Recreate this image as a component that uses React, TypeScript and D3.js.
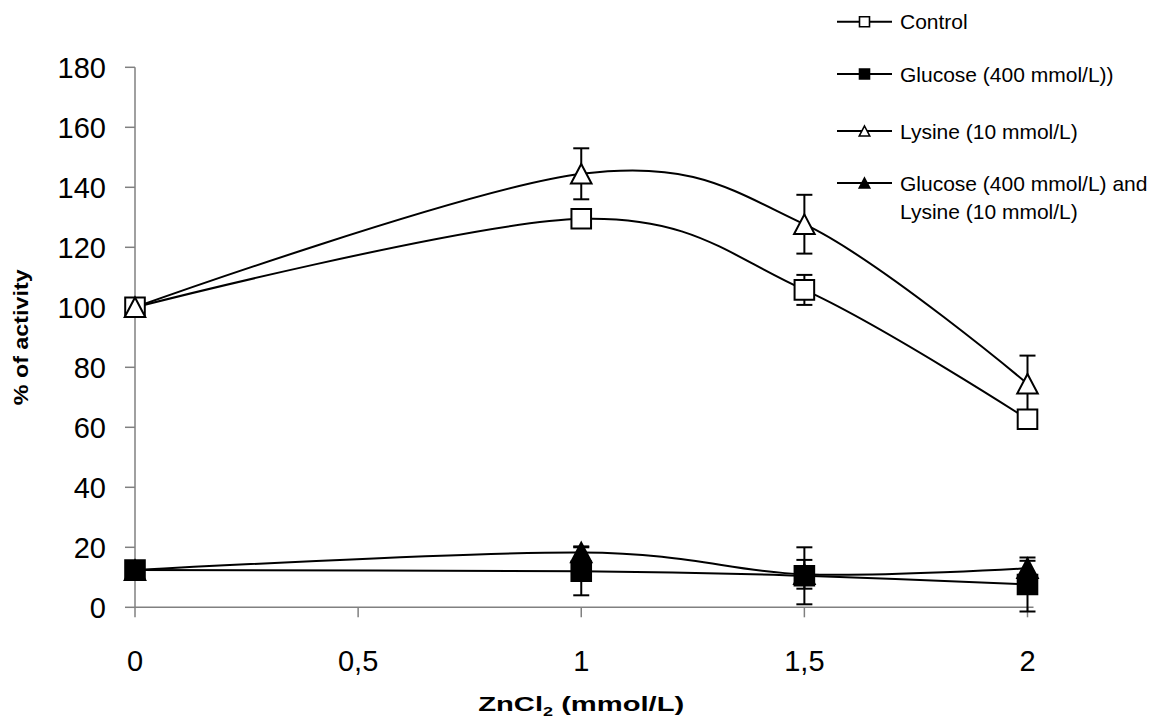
import React from "react";
import * as d3 from "d3";

// ZnCl2 concentration (mmol/L) at which activity was measured
const doses = [0, 1, 1.5, 2];
const doseTicks = [0, 0.5, 1, 1.5, 2];
const doseTickLabels = ["0", "0,5", "1", "1,5", "2"];
const activityTicks = [0, 20, 40, 60, 80, 100, 120, 140, 160, 180];

// % of activity per series, with error bar half-widths
const control = [100, 129.5, 105.8, 62.7];
const controlErr = [0, 1.5, 5, 3];
const glucose = [12.4, 12, 10.5, 7.6];
const glucoseErr = [0, 8, 9.5, 9];
const lysine = [100, 144.5, 127.7, 74.5];
const lysineErr = [0, 8.5, 9.8, 9.4];
const glucoseLysine = [12.4, 18.3, 11, 13];
const glucoseLysineErr = [0, 2, 4.8, 2.5];

const seriesNames = [
  "Control",
  "Glucose (400 mmol/L))",
  "Lysine (10 mmol/L)",
  "Glucose (400 mmol/L) and",
];

type Marker = "square" | "triangle";

const series = [
  { name: seriesNames[0], values: control, err: controlErr, marker: "square" as Marker, fill: "#fff" },
  { name: seriesNames[1], values: glucose, err: glucoseErr, marker: "square" as Marker, fill: "#000" },
  { name: seriesNames[2], values: lysine, err: lysineErr, marker: "triangle" as Marker, fill: "#fff" },
  { name: seriesNames[3], values: glucoseLysine, err: glucoseLysineErr, marker: "triangle" as Marker, fill: "#000" },
];

const W = 1175;
const H = 724;
const font = "Arial, 'Liberation Sans', sans-serif";

const x = d3.scaleLinear().domain([0, 2]).range([135, 1027.5]);
const y = d3.scaleLinear().domain([0, 180]).range([607.3, 67.3]);

const line = d3
  .line<[number, number]>()
  .x((d) => x(d[0]))
  .y((d) => y(d[1]))
  .curve(d3.curveCatmullRom.alpha(0));

function markerPath(kind: Marker, cx: number, cy: number, r: number) {
  if (kind === "square") {
    return `M${cx - r},${cy - r}H${cx + r}V${cy + r}H${cx - r}Z`;
  }
  return `M${cx},${cy - r}L${cx + r * 1.05},${cy + r}L${cx - r * 1.05},${cy + r}Z`;
}

export default function App() {
  const legendRows = [21.7, 74, 131, 183];
  const plotMidX = (x(0) + x(2)) / 2;
  const plotMidY = (y(0) + y(180)) / 2;
  return (
    <svg
      width={W}
      height={H}
      style={{ position: "absolute", left: 0, top: 0, background: "#fff" }}
      fontFamily={font}
    >
      {/* axes */}
      <g stroke="#808080" strokeWidth={1.5}>
        <line x1={x(0)} x2={x(0)} y1={y(0)} y2={y(180)} />
        <line x1={x(0)} x2={x(2) + 6} y1={y(0)} y2={y(0)} />
        {activityTicks.map((t) => (
          <line key={t} x1={x(0) - 10} x2={x(0)} y1={y(t)} y2={y(t)} />
        ))}
        {doseTicks.map((t) => (
          <line key={t} x1={x(t)} x2={x(t)} y1={y(0)} y2={y(0) + 10} />
        ))}
      </g>
      <g fontSize={29} fill="#000">
        {activityTicks.map((t) => (
          <text key={t} x={106} y={y(t)} dy="0.36em" textAnchor="end">
            {t}
          </text>
        ))}
        {doseTickLabels.map((label, i) => (
          <text key={label} x={x(doseTicks[i])} y={671} textAnchor="middle">
            {label}
          </text>
        ))}
      </g>

      {/* axis titles */}
      <text
        transform={`translate(28,${plotMidY}) rotate(-90)`}
        textAnchor="middle"
        fontSize={21}
        fontWeight="bold"
        textLength={136}
        lengthAdjust="spacingAndGlyphs"
      >
        % of activity
      </text>
      <text
        x={plotMidX}
        y={711}
        textAnchor="middle"
        fontSize={21}
        fontWeight="bold"
        textLength={206}
        lengthAdjust="spacingAndGlyphs"
      >
        ZnCl
        <tspan fontSize={13} dy={5}>2</tspan>
        <tspan dy={-5}> (mmol/L)</tspan>
      </text>

      {/* lines */}
      {series.map((s) => (
        <path
          key={s.name + "l"}
          d={line(doses.map((d, i) => [d, s.values[i]]) as [number, number][]) || ""}
          fill="none"
          stroke="#000"
          strokeWidth={2}
        />
      ))}

      {/* error bars */}
      {series.map((s) =>
        doses.map((d, i) =>
          s.err[i] > 0 ? (
            <g key={s.name + "e" + i} stroke="#000" strokeWidth={2}>
              <line x1={x(d)} x2={x(d)} y1={y(s.values[i] - s.err[i])} y2={y(s.values[i] + s.err[i])} />
              <line x1={x(d) - 8} x2={x(d) + 8} y1={y(s.values[i] - s.err[i])} y2={y(s.values[i] - s.err[i])} />
              <line x1={x(d) - 8} x2={x(d) + 8} y1={y(s.values[i] + s.err[i])} y2={y(s.values[i] + s.err[i])} />
            </g>
          ) : null
        )
      )}

      {/* markers */}
      {series.map((s) =>
        doses.map((d, i) => (
          <path
            key={s.name + "m" + i}
            d={markerPath(s.marker, x(d), y(s.values[i]), 9.8)}
            fill={s.fill}
            stroke="#000"
            strokeWidth={2}
          />
        ))
      )}

      {/* legend */}
      <g fontSize={21}>
        {series.map((s, i) => (
          <g key={s.name + "lg"}>
            <line x1={837} x2={892} y1={legendRows[i]} y2={legendRows[i]} stroke="#000" strokeWidth={2} />
            <path
              d={markerPath(s.marker, 864.5, legendRows[i], 5)}
              fill={s.fill}
              stroke="#000"
              strokeWidth={1.6}
            />
            <text x={900} y={legendRows[i]} dy="0.36em">
              {s.name}
            </text>
          </g>
        ))}
        <text x={900} y={211} dy="0.36em">
          Lysine (10 mmol/L)
        </text>
      </g>
    </svg>
  );
}
